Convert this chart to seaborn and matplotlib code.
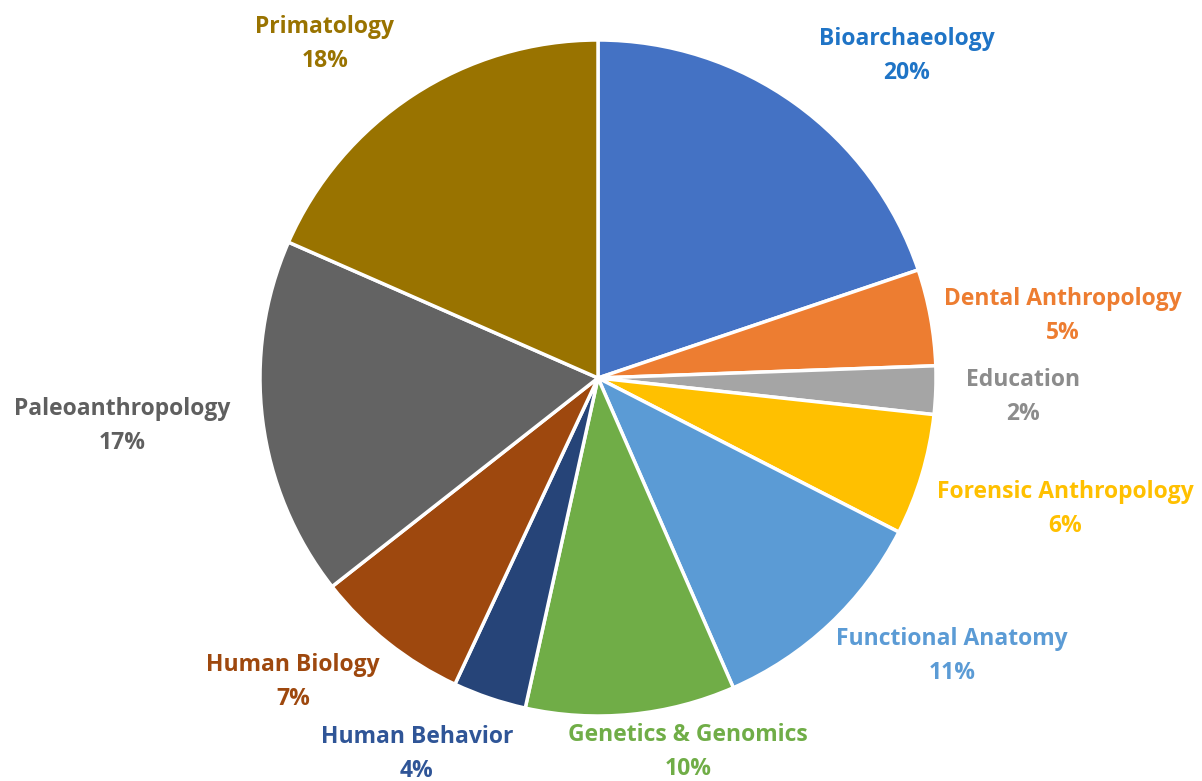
import matplotlib; matplotlib.use("Agg")
import matplotlib.pyplot as plt
import seaborn as sns

# data (shares in %, clockwise from 12 o'clock)
categories = ["Bioarchaeology", "Dental Anthropology", "Education", "Forensic Anthropology",
              "Functional Anatomy", "Genetics & Genomics", "Human Behavior", "Human Biology",
              "Paleoanthropology", "Primatology"]
shares = [19.8, 4.6, 2.3, 5.8, 10.9, 10.0, 3.5, 7.45, 17.15, 18.4]

slice_colors = ["#4472C4", "#ED7D31", "#A5A5A5", "#FFC000", "#5B9BD5",
                "#70AD47", "#264478", "#9E480E", "#636363", "#997300"]
text_colors  = ["#1F74C6", "#ED7D31", "#8C8C8C", "#FFC000", "#5B9BD5",
                "#70AD47", "#2F5597", "#9E480E", "#5F5F5F", "#997300"]

# label centres relative to pie centre, in units of the radius
label_pos = [(0.914, 0.964), (1.376, 0.195), (1.257, -0.044), (1.382, -0.376),
             (1.047, -0.811), (0.266, -1.095), (-0.536, -1.101), (-0.902, -0.888),
             (-1.408, -0.130), (-0.808, 1.0)]

sns.set_theme(style="white")
plt.rcParams["font.family"] = ["Open Sans", "DejaVu Sans"]

W, H = 1202, 781
fig = plt.figure(figsize=(W / 100, H / 100), dpi=100)
ax = fig.add_axes([0, 0, 1, 1])
cx, cy, R = 598, H - 378, 338

ax.pie(shares, colors=slice_colors, startangle=90, counterclock=False,
       center=(cx, cy), radius=R,
       wedgeprops=dict(edgecolor="white", linewidth=2.5))

total = sum(shares)
for name, val, col, (dx, dy) in zip(categories, shares, text_colors, label_pos):
    ax.text(cx + dx * R, cy + dy * R - 4, f"{name}\n{round(val / total * 100):.0f}%",
            ha="center", va="center", color=col, fontsize=16.5, fontweight="bold",
            linespacing=1.55)

ax.set_xlim(0, W); ax.set_ylim(0, H)
ax.set_aspect("equal")
ax.axis("off")
fig.savefig("out.png", dpi=100)
